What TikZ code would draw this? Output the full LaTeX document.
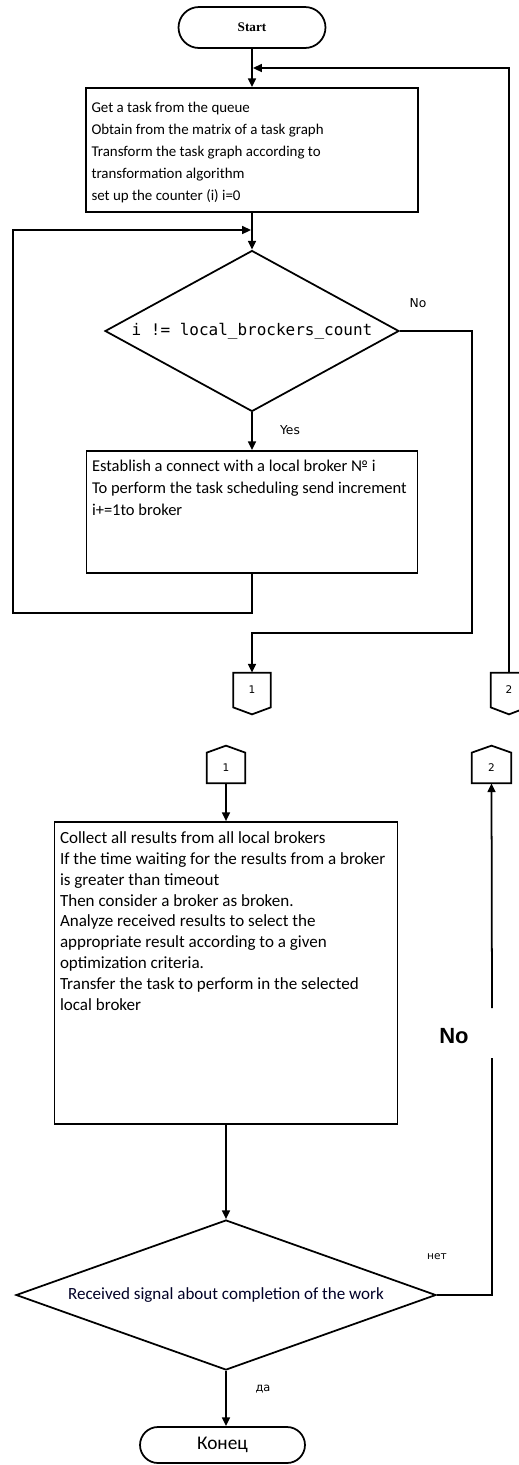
\documentclass[tikz,border=0pt]{standalone}
\usepackage{fontspec}
\setmainfont{Carlito}
\newfontfamily\codefont{DejaVu Sans Mono}
\newfontfamily\smallsans{DejaVu Sans}
\newfontfamily\titlefont{Liberation Serif}
\newfontfamily\boldsans{Liberation Sans}
\usetikzlibrary{shapes.geometric,shapes.misc,arrows.meta}

\tikzset{
  line/.style={line width=1pt},
  flow/.style={line, -{Triangle[length=5pt,width=4.5pt]}},
  terminal/.style={rounded rectangle, draw, line, inner sep=0pt},
  procbox/.style={rectangle, draw, line, inner sep=0pt},
  boxtext/.style={anchor=north west, inner sep=0pt, align=left, font=\fontsize{9}{12.5}\selectfont},
  decision/.style={diamond, draw, line, inner sep=0pt},
  conn/.style={rectangle, inner sep=0pt, font=\smallsans\fontsize{6}{7}\selectfont},
  branch/.style={inner sep=0pt, font=\smallsans\fontsize{7}{8}\selectfont},
}

\begin{document}
\begin{tikzpicture}[x=0.02cm, y=-0.02cm]
        \useasboundingbox (0,0) rectangle (519,1465);
        \clip (0,0) rectangle (519,1465);

        % Inizio
        \node[terminal, minimum width=2.94cm, minimum height=0.82cm] (start) at (252,27.5)
            {\titlefont\bfseries\fontsize{7.5}{9}\selectfont Start};

        % Blocco iniziale
        \node[procbox, minimum width=6.64cm, minimum height=2.48cm] (task) at (252,150) {};
        \node[boxtext, font=\fontsize{8.5}{12.5}\selectfont] (tasktext)
            at ([xshift=0.12cm,yshift=-0.3cm]task.north west)
            {Get a task from the queue\\
             Obtain from the matrix of a task graph\\
             Transform the task graph according to\\
             transformation algorithm\\
             set up the counter (i) i=0};

        % Condizione del ciclo
        \node[decision, aspect=1.83, minimum width=5.88cm, minimum height=3.22cm] (test) at (252,331)
            {\codefont\fontsize{9.1}{11}\selectfont i != local\_brockers\_count};
        \node[branch] (nolabel) at (418,303) {No};
        \node[branch] (yeslabel) at (290,430) {Yes};

        % Corpo del ciclo
        \node[procbox, minimum width=6.62cm, minimum height=2.44cm] (send) at (252,512) {};
        \node[boxtext, font=\fontsize{9.4}{12.5}\selectfont] (sendtext)
            at ([xshift=0.12cm,yshift=-0.2cm]send.north west)
            {Establish a connect with a local broker № i\\
             To perform the task scheduling send increment\\
             i+=1to broker};

        % Connettori fuori pagina
        \node[conn, minimum width=0.74cm, minimum height=0.68cm] (out1) at (252,690) {1};
        \node[conn, minimum width=0.72cm, minimum height=0.68cm] (out2) at (509,690) {2};
        \draw[line] (out1.north west) -- (out1.north east) -- (out1.south east)
            -- ([yshift=-0.14cm]out1.south) -- (out1.south west) -- cycle;
        \draw[line] (out2.north west) -- (out2.north east) -- (out2.south east)
            -- ([yshift=-0.14cm]out2.south) -- (out2.south west) -- cycle;

        % Connettori di ingresso
        \node[conn, minimum width=0.76cm, minimum height=0.6cm] (in1) at (226,768) {1};
        \node[conn, minimum width=0.78cm, minimum height=0.6cm] (in2) at (491.5,768) {2};
        \draw[line] (in1.south west) -- (in1.north west) -- ([yshift=0.14cm]in1.north)
            -- (in1.north east) -- (in1.south east) -- cycle;
        \draw[line] (in2.south west) -- (in2.north west) -- ([yshift=0.14cm]in2.north)
            -- (in2.north east) -- (in2.south east) -- cycle;

        % Raccolta dei risultati
        \node[procbox, minimum width=6.86cm, minimum height=6.04cm] (collect) at (226,973) {};
        \node[boxtext, font=\fontsize{9.7}{11.9}\selectfont] (collecttext)
            at ([xshift=0.12cm,yshift=-0.2cm]collect.north west)
            {Collect all results from all local brokers\\
             If the time waiting for the results from a broker\\
             is greater than timeout\\
             Then consider a broker as broken.\\
             Analyze received results to select the\\
             appropriate result according to a given\\
             optimization criteria.\\
             Transfer the task to perform in the selected\\
             local broker};

        % Condizione finale
        \node[decision, aspect=2.8, minimum width=8.4cm, minimum height=3cm] (done) at (226,1295)
            {\color{black!85!blue}\fontsize{9.7}{11}\selectfont Received signal about completion of the work};
        \node[branch, font=\smallsans\fontsize{6}{7}\selectfont] (netlabel) at (437,1257) {нет};
        \node[branch, font=\smallsans\fontsize{6.5}{7}\selectfont] (dalabel) at (263,1389) {да};
        \node[inner sep=0pt, font=\boldsans\bfseries\fontsize{12.5}{14}\selectfont] (bignolabel) at (454,1036) {No};

        % Fine
        \node[terminal, minimum width=3.3cm, minimum height=0.72cm] (finish) at (222.5,1445)
            {\fontsize{11}{13}\selectfont Конец};

        % Punti di svolta
        \coordinate (retin) at (253,68);
        \coordinate (loopleft) at (13,613);
        \coordinate (loopin) at (251,230);
        \coordinate (noturn) at (472,633);
        \coordinate (gaplow) at (492,1058);
        \coordinate (gaphigh) at (492,1008);

        % Frecce
        \draw[flow] (start.south) -- (task.north);
        \draw[flow] (out2.north) |- (retin);
        \draw[flow] (task.south) -- (test.north);
        \draw[flow] (send.south) |- (loopleft) |- (loopin);
        \draw[flow] (test.south) -- (send.north);
        \draw[flow] (test.east) -| (noturn) -| (out1.north);
        \draw[flow] (in1.south) -- (collect.north);
        \draw[flow] (collect.south) -- (done.north);
        \draw[line] (done.east) -| (gaplow);
        \draw[flow] (gaphigh) -- (in2.south);
        \draw[flow] (done.south) -- (done.south |- finish.north);

    \end{tikzpicture}
\end{document}
